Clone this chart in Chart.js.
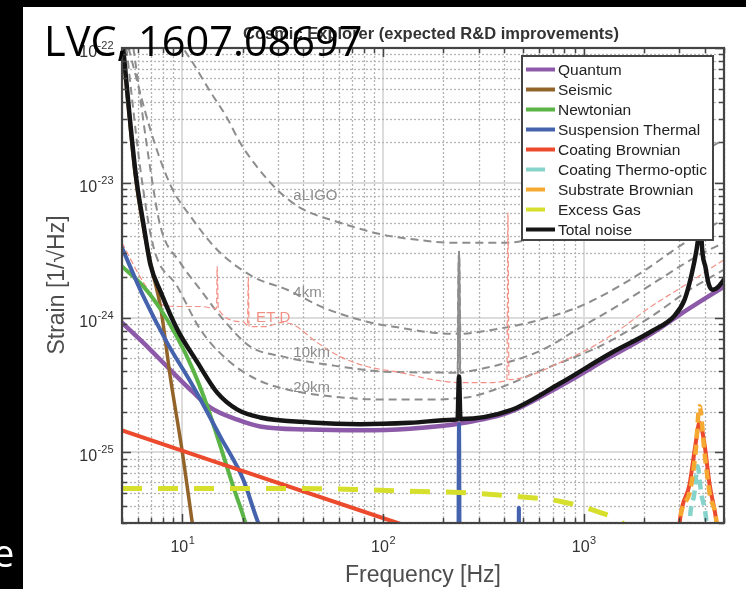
<!DOCTYPE html>
<html>
<head>
<meta charset="utf-8">
<title>Cosmic Explorer noise budget</title>
<script src="https://cdn.jsdelivr.net/npm/chart.js@4.4.0/dist/chart.umd.min.js"></script>
<style>
  html, body { margin: 0; padding: 0; background: #fff; }
  #wrap { width: 746px; height: 589px; }
</style>
</head>
<body>
<div id="wrap"><canvas id="noiseChart" width="746" height="589"></canvas></div>
<script>
// Axis ranges and decade labels
const freqRange = [5, 5000];
const strainRange = [3e-26, 1e-22];
const freqTickExps = [1, 2, 3];
const strainTickExps = [-25, -24, -23, -22];

// Noise budget terms: [frequency in Hz, strain in 1/sqrt(Hz)]
const quantum = [[5, 9.2e-25], [6.4, 6.5e-25], [8.7, 4.1e-25], [11.3, 2.8e-25], [13.8, 2.15e-25],
  [18.8, 1.75e-25], [24.4, 1.56e-25], [43, 1.48e-25], [77, 1.46e-25], [136, 1.5e-25],
  [242, 1.64e-25], [429, 2.0e-25], [760, 3.1e-25], [1350, 5.1e-25], [2200, 7.7e-25],
  [3000, 1.05e-24], [5000, 1.7e-24]];
const seismic = [[5, 1.15e-22], [5.84, 1.1e-23], [6.4, 4.6e-24], [7.09, 2.2e-24], [7.78, 1.2e-24],
  [8.71, 3.6e-25], [10, 1.0e-25], [11.2, 3.0e-26], [12, 1.5e-26]];
const newtonian = [[5, 2.4e-24], [6.4, 1.7e-24], [7.8, 1.15e-24], [9.4, 7.2e-25], [11.3, 4.1e-25],
  [13.3, 2.2e-25], [15.5, 1.1e-25], [17.9, 5.6e-26], [20.6, 3.0e-26], [23, 1.5e-26]];
const suspensionThermal = [[5, 3.3e-24], [6.4, 1.43e-24], [8.4, 6.5e-25], [11.3, 3.1e-25],
  [15.5, 1.3e-25], [20.1, 6.3e-26], [23.9, 3.0e-26], [30, 1.5e-26], [235, 1e-28],
  [239, 1.61e-25], [243, 1e-28], [470, 1e-28], [475, 3.9e-26], [480, 1e-28], [5000, 1e-28]];
const coatingBrownian = [[5, 1.46e-25], [118, 3.0e-26], [2800, 6.5e-27], [3004, 3.0e-26],
  [3367, 5.8e-26], [3606, 1.15e-25], [3776, 1.67e-25], [3998, 1.15e-25], [4238, 5.8e-26],
  [4593, 3.0e-26], [5000, 8e-27]];
const coatingThermoOptic = [[3200, 5e-27], [3367, 3.0e-26], [3560, 5.0e-26], [3690, 7.9e-26],
  [3850, 5.0e-26], [4093, 3.0e-26], [4400, 5e-27]];
const substrateBrownian = [[2800, 5e-27], [3004, 3.0e-26], [3367, 5.0e-26], [3606, 1.0e-25],
  [3776, 2.2e-25], [3998, 1.0e-25], [4238, 5.0e-26], [4593, 3.0e-26], [5000, 5e-27]];
const excessGas = [[5, 5.4e-26], [39, 5.4e-26], [77, 5.3e-26], [136, 5.15e-26], [242, 5.05e-26],
  [481, 4.7e-26], [760, 4.35e-26], [1200, 3.6e-26], [1560, 3.0e-26], [2000, 1.8e-26]];
const totalNoise = [[5, 1.23e-22], [5.84, 1.19e-23], [6.4, 4.9e-24], [6.93, 2.47e-24],
  [7.78, 1.56e-24], [9.44, 8.15e-25], [11.9, 4.64e-25], [14.9, 2.78e-25], [18.8, 2.08e-25],
  [24.4, 1.82e-25], [43.4, 1.67e-25], [76.9, 1.62e-25], [136, 1.66e-25], [226, 1.75e-25],
  [235, 1.76e-25], [239, 3.66e-25], [243, 1.77e-25], [429, 2.05e-25], [760, 3.25e-25],
  [1347, 5.4e-25], [2203, 8.0e-25], [2836, 1.035e-24], [3181, 1.36e-24], [3445, 2.08e-24],
  [3649, 3.19e-24], [3776, 4.64e-24], [3832, 5.79e-24], [3865, 3.78e-24], [4046, 2.35e-24],
  [4188, 1.79e-24], [4389, 1.61e-24], [4694, 1.7e-24], [5000, 1.91e-24]];

// Comparison detectors
const aLIGO = [[9.44, 1.15e-22], [11.2, 7.87e-23], [13.8, 4.72e-23], [16.7, 3.03e-23],
  [19.4, 1.98e-23], [23.6, 1.31e-23], [29.7, 8.87e-24], [38.7, 6.53e-24], [61.1, 5.06e-24],
  [100, 4.12e-24], [148, 3.78e-24], [215, 3.6e-24], [315, 3.6e-24], [414, 3.6e-24],
  [700, 4.3e-24], [1000, 5.3e-24], [2000, 9.5e-24], [3000, 1.35e-23], [5000, 2.1e-23]];
const ce4km = [[5.39, 1.0e-22], [6.93, 2.47e-23], [8.71, 9.66e-24], [11.3, 5.32e-24],
  [14.9, 3.19e-24], [22.5, 2.01e-24], [33.3, 1.61e-24], [50.3, 1.19e-24], [83.2, 9.33e-25],
  [121, 8.43e-25], [177, 7.74e-25], [235, 7.6e-25], [239, 3.08e-24], [243, 7.6e-25],
  [353, 8.15e-25], [481, 8.87e-25], [604, 9.66e-25], [955, 1.21e-24], [1347, 1.56e-24],
  [1966, 2.19e-24], [3074, 3.47e-24], [5000, 5.41e-24]];
const ce10km = [[5.7, 1.0e-22], [6.93, 1.25e-23], [7.78, 4.72e-24], [9.77, 2.55e-24],
  [12.3, 1.61e-24], [16, 9.66e-25], [21.8, 6.1e-25], [31.8, 5.14e-25], [61.1, 4.34e-25],
  [100, 3.98e-25], [177, 3.92e-25], [235, 3.9e-25], [239, 3.08e-24], [243, 3.9e-25],
  [262, 3.98e-25], [382, 4.49e-25], [625, 5.79e-25], [923, 8.15e-25], [1511, 1.25e-24],
  [2588, 2.08e-24], [3776, 2.93e-24], [5000, 3.6e-24]];
const ce20km = [[5.26, 1.0e-22], [6.18, 1.25e-23], [7.17, 3.36e-24], [9.44, 1.7e-24],
  [12.3, 8.15e-25], [16.7, 4.89e-25], [23.6, 3.47e-25], [33.3, 2.93e-25], [56.4, 2.6e-25],
  [100, 2.47e-25], [177, 2.47e-25], [235, 2.55e-25], [239, 3.08e-24], [243, 2.55e-25],
  [270, 2.58e-25], [395, 3.08e-25], [625, 4.12e-25], [1109, 5.79e-25], [1394, 6.87e-25],
  [2130, 1.0e-24], [3367, 1.61e-24], [5000, 2.27e-24]];
const etD = [[5, 3.6e-24], [6.4, 1.82e-24], [7.78, 1.25e-24], [9.77, 1.21e-24], [12.3, 1.21e-24],
  [14.8, 1.17e-24], [14.9, 2.39e-24], [15.1, 1.15e-24], [20.1, 9.33e-25], [21.1, 8.73e-25],
  [21.3, 2.01e-24], [21.5, 8.57e-25], [25.9, 8.57e-25], [30.8, 9.18e-25], [35.7, 8.87e-25],
  [47, 6.53e-25], [61.1, 5.14e-25], [83.2, 4.34e-25], [121, 3.92e-25], [177, 3.47e-25],
  [242, 3.3e-25], [315, 3.3e-25], [414, 3.41e-25], [419, 6.0e-24], [424, 3.47e-25],
  [520, 3.66e-25], [760, 4.64e-25], [1109, 6.1e-25], [1511, 8.15e-25], [2130, 1.19e-24],
  [3108, 1.7e-24], [5000, 2.69e-24]];

const legendLabels = ['Quantum', 'Seismic', 'Newtonian', 'Suspension Thermal', 'Coating Brownian',
  'Coating Thermo-optic', 'Substrate Brownian', 'Excess Gas', 'Total noise'];

const FONT = '"Liberation Sans", Arial, sans-serif';

function series(label, points, color, width, dash) {
  return {
    label: label,
    data: points.map(([f, h]) => ({ x: f, y: h })),
    borderColor: color,
    borderWidth: width,
    borderDash: dash || [],
    borderCapStyle: dash ? 'butt' : 'round',
    borderJoinStyle: 'round',
    showLine: true,
    pointRadius: 0,
    cubicInterpolationMode: 'monotone',
    clip: 0
  };
}

// first dataset ends up on top
const datasets = [
  series('Total noise', totalNoise, '#151515', 4.5),
  series('Excess Gas', excessGas, '#d6e02c', 5, [20, 16]),
  series('Substrate Brownian', substrateBrownian, '#f6a930', 4.5, [10, 6]),
  series('Coating Thermo-optic', coatingThermoOptic, '#86d3cb', 4.5, [10, 6]),
  series('Coating Brownian', coatingBrownian, '#ec4a2c', 4),
  series('Suspension Thermal', suspensionThermal, '#4562ad', 4),
  series('Newtonian', newtonian, '#5bb446', 4),
  series('Seismic', seismic, '#93642a', 3.5),
  series('Quantum', quantum, '#8c5aa8', 4.5),
  series('ET-D', etD, '#f39186', 1.2, [6, 3]),
  series('20km', ce20km, '#8d8d8d', 2, [8, 5]),
  series('10km', ce10km, '#8d8d8d', 2, [8, 5]),
  series('4km', ce4km, '#8d8d8d', 2, [8, 5]),
  series('aLIGO', aLIGO, '#8d8d8d', 2, [8, 5])
];

function logSteps(min, max) {
  const out = [];
  for (let e = Math.floor(Math.log10(min)); e <= Math.ceil(Math.log10(max)); e++) {
    for (let m = 1; m <= 9; m++) {
      const v = m * Math.pow(10, e);
      if (v >= min * 0.999 && v <= max * 1.001) out.push({ v: v, major: m === 1 });
    }
  }
  return out;
}

// "10" with a raised exponent
function powerLabel(ctx, exp, x, y, align) {
  ctx.font = '16px ' + FONT;
  const wBase = ctx.measureText('10').width;
  ctx.font = '11px ' + FONT;
  const sup = String(exp);
  const wSup = ctx.measureText(sup).width;
  let left = x;
  if (align === 'center') left = x - (wBase + wSup) / 2;
  if (align === 'right') left = x - (wBase + wSup);
  ctx.textAlign = 'left';
  ctx.textBaseline = 'alphabetic';
  ctx.font = '16px ' + FONT;
  ctx.fillText('10', left, y);
  ctx.font = '11px ' + FONT;
  ctx.fillText(sup, left + wBase + 0.5, y - 8);
}

const decorations = {
  id: 'decorations',
  beforeDraw(chart) {
    const { ctx, width, height } = chart;
    ctx.save();
    ctx.fillStyle = '#fff';
    ctx.fillRect(0, 0, width, height);
    // slide background showing at the edges
    ctx.fillStyle = '#000';
    ctx.fillRect(0, 0, 23, height);
    ctx.fillRect(0, 0, width, 7);
    ctx.restore();
  },
  beforeDatasetsDraw(chart) {
    const { ctx, chartArea: a, scales } = chart;
    ctx.save();
    // major grid
    ctx.strokeStyle = '#dcdcdc';
    ctx.lineWidth = 2;
    logSteps(freqRange[0], freqRange[1]).filter(t => t.major).forEach(t => {
      const px = Math.round(scales.x.getPixelForValue(t.v));
      ctx.beginPath(); ctx.moveTo(px, a.top); ctx.lineTo(px, a.bottom); ctx.stroke();
    });
    logSteps(strainRange[0], strainRange[1]).filter(t => t.major).forEach(t => {
      const py = Math.round(scales.y.getPixelForValue(t.v));
      ctx.beginPath(); ctx.moveTo(a.left, py); ctx.lineTo(a.right, py); ctx.stroke();
    });
    // minor grid, dotted
    ctx.strokeStyle = '#b4b4b4';
    ctx.lineWidth = 1.3;
    ctx.setLineDash([2, 2]);
    logSteps(freqRange[0], freqRange[1]).filter(t => !t.major).forEach(t => {
      const px = Math.round(scales.x.getPixelForValue(t.v)) + 0.5;
      ctx.beginPath(); ctx.moveTo(px, a.top); ctx.lineTo(px, a.bottom); ctx.stroke();
    });
    logSteps(strainRange[0], strainRange[1]).filter(t => !t.major).forEach(t => {
      const py = Math.round(scales.y.getPixelForValue(t.v)) + 0.5;
      ctx.beginPath(); ctx.moveTo(a.left, py); ctx.lineTo(a.right, py); ctx.stroke();
    });
    ctx.restore();
  },
  afterDatasetsDraw(chart) {
    const { ctx, chartArea: a, scales } = chart;
    const xs = scales.x, ys = scales.y;
    ctx.save();

    // curve names
    const notes = [
      ['aLIGO', 35.7, 8.0e-24, '#8d8d8d'],
      ['4km', 35.7, 1.53e-24, '#8d8d8d'],
      ['10km', 35.7, 5.5e-25, '#8d8d8d'],
      ['20km', 35.7, 3.03e-25, '#8d8d8d'],
      ['ET-D', 23.3, 1.0e-24, '#f39186']
    ];
    ctx.font = '15px ' + FONT;
    ctx.textBaseline = 'middle';
    ctx.textAlign = 'left';
    notes.forEach(([txt, f, h, c]) => {
      ctx.fillStyle = c;
      ctx.fillText(txt, xs.getPixelForValue(f), ys.getPixelForValue(h));
    });

    // inward tick marks on all four sides
    ctx.strokeStyle = '#444';
    ctx.lineWidth = 1.5;
    logSteps(freqRange[0], freqRange[1]).forEach(t => {
      const px = Math.round(xs.getPixelForValue(t.v)) + 0.5;
      const len = t.major ? 9 : 5;
      ctx.beginPath();
      ctx.moveTo(px, a.bottom); ctx.lineTo(px, a.bottom - len);
      ctx.moveTo(px, a.top); ctx.lineTo(px, a.top + len);
      ctx.stroke();
    });
    logSteps(strainRange[0], strainRange[1]).forEach(t => {
      const py = Math.round(ys.getPixelForValue(t.v)) + 0.5;
      const len = t.major ? 9 : 5;
      ctx.beginPath();
      ctx.moveTo(a.left, py); ctx.lineTo(a.left + len, py);
      ctx.moveTo(a.right, py); ctx.lineTo(a.right - len, py);
      ctx.stroke();
    });
    // axes box
    ctx.lineWidth = 2.2;
    ctx.strokeRect(a.left, a.top, a.right - a.left, a.bottom - a.top);

    // tick labels
    ctx.fillStyle = '#333';
    freqTickExps.forEach(e => powerLabel(ctx, e, xs.getPixelForValue(Math.pow(10, e)), 552, 'center'));
    strainTickExps.forEach(e => powerLabel(ctx, e, 113, ys.getPixelForValue(Math.pow(10, e)) + 9, 'right'));

    // axis titles
    ctx.fillStyle = '#4d4d4d';
    ctx.font = '23px ' + FONT;
    ctx.textAlign = 'center';
    ctx.textBaseline = 'alphabetic';
    ctx.fillText('Frequency [Hz]', (a.left + a.right) / 2, 582);
    ctx.save();
    ctx.translate(58, 285);
    ctx.rotate(-Math.PI / 2);
    ctx.textBaseline = 'middle';
    ctx.fillText('Strain [1/\u221AHz]', 0, 0);
    ctx.restore();

    // plot title
    ctx.fillStyle = '#333';
    ctx.font = 'bold 16.5px ' + FONT;
    ctx.fillText('Cosmic Explorer (expected R&D improvements)', 431, 39);

    // legend box
    const lx = 522, ly = 56, lw = 191, lh = 184;
    ctx.fillStyle = '#fff';
    ctx.fillRect(lx, ly, lw, lh);
    ctx.strokeStyle = '#444';
    ctx.lineWidth = 2;
    ctx.strokeRect(lx, ly, lw, lh);
    ctx.font = '15.5px ' + FONT;
    ctx.textAlign = 'left';
    ctx.textBaseline = 'middle';
    legendLabels.forEach((name, i) => {
      const ds = chart.data.datasets.find(d => d.label === name);
      const y = ly + 13.5 + i * 20;
      ctx.strokeStyle = ds.borderColor;
      ctx.lineWidth = 4;
      ctx.lineCap = 'butt';
      ctx.beginPath();
      ctx.moveTo(lx + 4, y);
      ctx.lineTo(lx + (ds.borderDash.length ? 23 : 33), y);
      ctx.stroke();
      ctx.fillStyle = '#222';
      ctx.fillText(name, lx + 36, y + 1);
    });

    // slide overlay text
    ctx.fillStyle = '#000';
    ctx.font = '41.5px "Open Sans", sans-serif';
    ctx.textBaseline = 'alphabetic';
    ctx.fillText('LVC, 1607.08697', 44, 56);
    ctx.fillStyle = '#fff';
    ctx.font = '38px "Open Sans", sans-serif';
    ctx.fillText('e', -7, 567);
    ctx.restore();
  }
};

new Chart(document.getElementById('noiseChart'), {
  type: 'scatter',
  data: { datasets: datasets },
  options: {
    responsive: false,
    animation: false,
    events: [],
    layout: { padding: { top: 48, right: 22, left: 0, bottom: 0 } },
    plugins: { legend: { display: false }, tooltip: { enabled: false } },
    scales: {
      x: {
        type: 'logarithmic',
        min: freqRange[0],
        max: freqRange[1],
        ticks: { display: false },
        grid: { display: false },
        border: { display: false },
        afterFit(scale) { scale.height = 66; }
      },
      y: {
        type: 'logarithmic',
        min: strainRange[0],
        max: strainRange[1],
        ticks: { display: false },
        grid: { display: false },
        border: { display: false },
        afterFit(scale) { scale.width = 122; }
      }
    }
  },
  plugins: [decorations]
});
</script>
</body>
</html>
